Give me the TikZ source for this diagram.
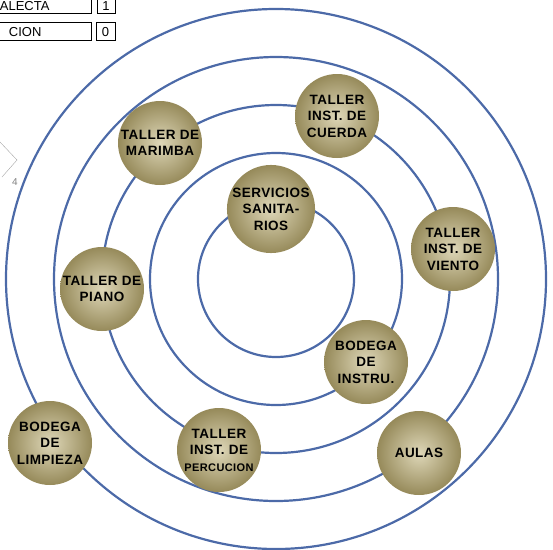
\documentclass[tikz,border=0pt]{standalone}
\usepackage{fontspec}
\setmainfont{Liberation Sans}
\newfontfamily\rotulo{Liberation Sans}[LetterSpace=3.5]
\definecolor{anillo}{RGB}{76,106,168}
\definecolor{claro}{RGB}{222,215,184}
\definecolor{oscuro}{RGB}{150,138,90}
\begin{document}
\begin{tikzpicture}[x=1pt, y=-1pt,
	espacio/.style={circle, minimum size=84pt, inner sep=0pt, shading=radial,
		inner color=claro, outer color=oscuro, text=black, align=center,
		font=\rotulo\bfseries\fontsize{13.5}{16.5}\selectfont},
	aro/.style={draw=anillo, line width=2.2pt},
	caja/.style={draw, thin, inner sep=0pt}]
	\useasboundingbox (0, 0) rectangle (553, 549);

	% \espacio#nombre#x#y#texto
	\def\espacio#1#2#3#4{
		\node[espacio] (#1) at (#2, #3) {#4};
	}

	% anillos concentricos
	\foreach \r in {78, 126, 174, 222, 270} {
		\draw[aro] (276, 279) circle (\r pt);
	}

	% espacios
	\espacio{marimba}{160}{143}{TALLER DE\\MARIMBA}
	\espacio{cuerda}{337}{116}{TALLER\\INST. DE\\CUERDA}
	\espacio{servicios}{271}{209}{SERVICIOS\\SANITA-\\RIOS}
	\espacio{viento}{453}{249}{TALLER\\INST. DE\\VIENTO}
	\espacio{piano}{102}{289}{TALLER DE\\PIANO}
	\espacio{instru}{366}{362}{BODEGA\\DE\\INSTRU.}
	\espacio{limpieza}{50}{443}{BODEGA\\DE\\LIMPIEZA}
	\espacio{percucion}{219}{450}{TALLER\\INST. DE\\{\fontsize{11}{16.5}\selectfont PERCUCION}}
	\espacio{aulas}{419}{453}{AULAS}

	% leyenda
	\draw[caja] (-20, -8) rectangle (91, 13);
	\draw[caja] (97, -8) rectangle (115, 13);
	\draw[caja] (-20, 22) rectangle (91, 40);
	\draw[caja] (96, 22) rectangle (115, 40);
	\node[anchor=base east, font=\fontsize{13}{14}\selectfont] (directa) at (53, 10) {ALECTA};
	\node[anchor=base, font=\fontsize{13}{14}\selectfont] (uno) at (106, 10) {1};
	\node[anchor=base east, font=\fontsize{13}{14}\selectfont] (relacion) at (45, 36) {CION};
	\node[anchor=base, font=\fontsize{13}{14}\selectfont] (cero) at (105.5, 36) {0};

	% rombo
	\draw[gray!70, thin] (0, 142) -- (17, 160) -- (2, 177);
	\node[text=gray, font=\fontsize{10}{11}\selectfont] (cuatro) at (15, 182) {4};
\end{tikzpicture}
\end{document}
